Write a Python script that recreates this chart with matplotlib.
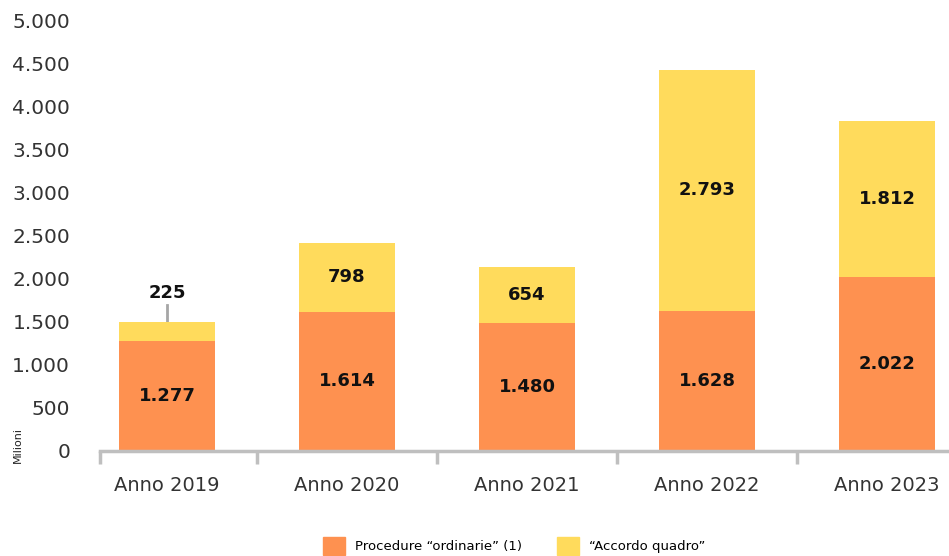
import matplotlib.pyplot as plt
import numpy as np
from matplotlib.patches import Patch

anni = ['Anno 2019', 'Anno 2020', 'Anno 2021', 'Anno 2022', 'Anno 2023']
ordinarie = [1277, 1614, 1480, 1628, 2022]
accordo = [225, 798, 654, 2793, 1812]

c_ord = '#FE9150'
c_acc = '#FFDB5C'


def fmt(v):
    return f'{v:,}'.replace(',', '.')


plt.rcParams['font.family'] = ['DejaVu Sans']

fig = plt.figure(figsize=(9.49, 5.56), dpi=100)
# 180 px per category; axis line starts a bit inside the first slot and
# runs past the right edge like in the original (cropped) picture
x0 = -0.5 + 23 / 180
ax = fig.add_axes([100 / 949, 105 / 556, 877 / 949, 431 / 556])

x = np.arange(len(anni))
width = 0.53
b1 = ax.bar(x, ordinarie, width, color=c_ord, zorder=2)
b2 = ax.bar(x, accordo, width, bottom=ordinarie, color=c_acc, zorder=2)

ax.set_xlim(x0, 4.5)
ax.set_ylim(0, 5000)
ax.set_yticks(np.arange(0, 5001, 500))
ax.set_yticklabels([fmt(v) for v in range(0, 5001, 500)], fontsize=14.5, color='#333333')
ax.tick_params(axis='y', length=0, pad=21.5)

ax.set_xticks(x)
ax.set_xticklabels(anni, fontsize=14, color='#333333')
ax.set_xticks([x0, 0.5, 1.5, 2.5, 3.5], minor=True)
ax.tick_params(axis='x', which='major', length=0, pad=18)
ax.tick_params(axis='x', which='minor', length=9, width=2.5, color='#BFBFBF')

for s in ['top', 'right', 'left']:
    ax.spines[s].set_visible(False)
ax.spines['bottom'].set_color('#BFBFBF')
ax.spines['bottom'].set_linewidth(2.5)

# labels
for i in range(len(anni)):
    ax.text(x[i], ordinarie[i] / 2, fmt(ordinarie[i]), ha='center', va='center',
            fontsize=13, fontweight='bold', color='#111111')
    if accordo[i] > 400:
        ax.text(x[i], ordinarie[i] + accordo[i] / 2, fmt(accordo[i]), ha='center',
                va='center', fontsize=13, fontweight='bold', color='#111111')
    else:
        top = ordinarie[i] + accordo[i]
        ax.plot([x[i], x[i]], [top, top + 190], color='#A6A6A6', lw=2, zorder=1)
        ax.text(x[i], top + 330, fmt(accordo[i]), ha='center', va='center',
                fontsize=13, fontweight='bold', color='#111111')

fig.text(18 / 949, 1 - 445 / 556, 'Milioni', rotation=90, ha='center', va='center',
         fontsize=8, color='#222222')

handles = [Patch(color=c_ord, label='Procedure \u201cordinarie\u201d (1)'),
           Patch(color=c_acc, label='\u201cAccordo quadro\u201d')]
fig.legend(handles=handles, loc='center left', bbox_to_anchor=(311 / 949, 1 - 546 / 556),
           ncol=2, frameon=False, fontsize=9.5, handlelength=1.7, handleheight=1.7,
           columnspacing=2.6, handletextpad=0.75)

fig.savefig('out.png', dpi=100)
